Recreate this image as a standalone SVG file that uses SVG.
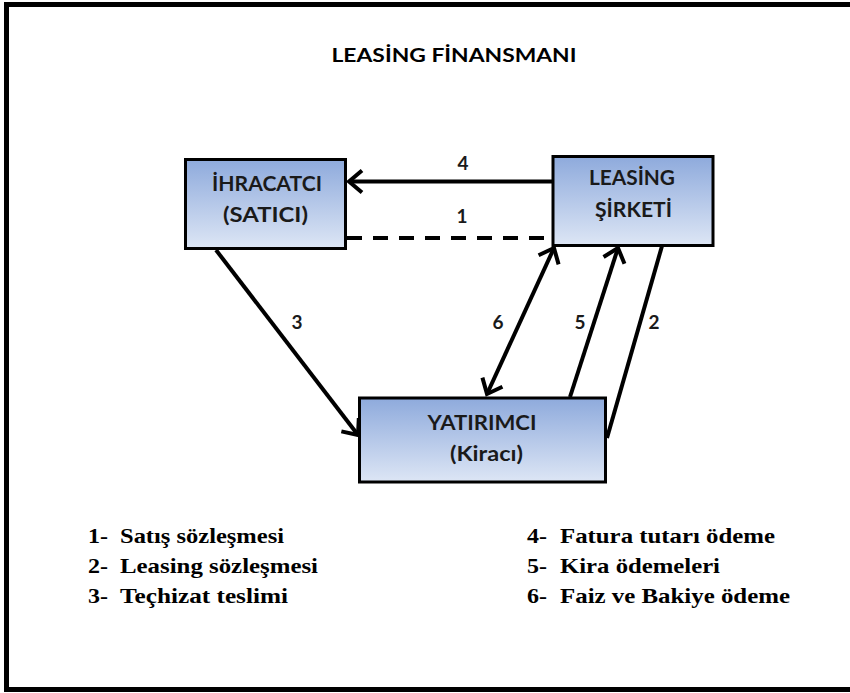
<svg xmlns="http://www.w3.org/2000/svg" width="850" height="693" viewBox="0 0 850 693">
  <defs>
    <linearGradient id="boxFill" x1="0" y1="0" x2="0" y2="1">
      <stop offset="0" stop-color="#8eaadc"/>
      <stop offset="1" stop-color="#dde6f5"/>
    </linearGradient>
    <marker id="head" viewBox="-16 -14 20 28" refX="0" refY="0" markerWidth="20" markerHeight="28" markerUnits="userSpaceOnUse" orient="auto-start-reverse">
      <path d="M -13 -11 L 0 0 L -13 11" fill="none" stroke="#000" stroke-width="4" stroke-linejoin="miter"/>
    </marker>
  </defs>
  <style>
    .frame { fill: #fff; stroke: #000; stroke-width: 5; }
    .box { fill: url(#boxFill); stroke: #000; stroke-width: 3; }
    .btxt { font-family: Lato, "Open Sans", sans-serif; font-weight: bold; font-size: 20px; fill: #1a1a1a; text-anchor: middle; }
    .num { font-family: Lato, "Open Sans", sans-serif; font-weight: bold; font-size: 19px; fill: #1a1a1a; text-anchor: middle; }
    .title { font-family: Lato, "Open Sans", sans-serif; font-weight: bold; font-size: 18.5px; fill: #000; text-anchor: middle; }
    .leg { font-family: "Liberation Serif", "Times New Roman", serif; font-weight: bold; font-size: 21px; fill: #000; }
    .con { fill: none; stroke: #000; stroke-width: 4; }
  </style>

  <!-- outer frame -->
  <rect class="frame" x="6.5" y="4.5" width="860" height="685"/>

  <text class="title" x="454" y="62" textLength="245" lengthAdjust="spacingAndGlyphs">LEASİNG FİNANSMANI</text>

  <!-- connectors -->
  <g id="connectors">
    <line class="con" x1="553" y1="181.5" x2="349" y2="181.5" marker-end="url(#head)"/>
    <line class="con" x1="347" y1="238" x2="553" y2="238" stroke-width="4.5" stroke-dasharray="15 11"/>
    <line class="con" x1="216" y1="250" x2="358" y2="435" marker-end="url(#head)"/>
    <line class="con" x1="487" y1="394" x2="554" y2="248" marker-start="url(#head)" marker-end="url(#head)"/>
    <line class="con" x1="570" y1="397" x2="618" y2="248" marker-end="url(#head)"/>
    <line class="con" x1="662" y1="246" x2="607" y2="438"/>
    <text class="num" x="463" y="170">4</text>
    <text class="num" x="462" y="223">1</text>
    <text class="num" x="297" y="329">3</text>
    <text class="num" x="498" y="329">6</text>
    <text class="num" x="580" y="329">5</text>
    <text class="num" x="654" y="329">2</text>
  </g>

  <!-- nodes -->
  <g id="ihracatci">
    <rect class="box" x="185.5" y="159.5" width="160" height="89"/>
    <text class="btxt" x="267" y="191" textLength="110" lengthAdjust="spacingAndGlyphs">İHRACATCI</text>
    <text class="btxt" x="265.5" y="222" textLength="85" lengthAdjust="spacingAndGlyphs">(SATICI)</text>
  </g>
  <g id="leasing-sirketi">
    <rect class="box" x="553" y="156.5" width="160" height="89"/>
    <text class="btxt" x="632" y="185" textLength="86" lengthAdjust="spacingAndGlyphs">LEASİNG</text>
    <text class="btxt" x="633.5" y="217" textLength="77" lengthAdjust="spacingAndGlyphs">ŞİRKETİ</text>
  </g>
  <g id="yatirimci">
    <rect class="box" x="359.5" y="398" width="246" height="84"/>
    <text class="btxt" x="482" y="430" textLength="109" lengthAdjust="spacingAndGlyphs">YATIRIMCI</text>
    <text class="btxt" x="486.5" y="461" textLength="73" lengthAdjust="spacingAndGlyphs">(Kiracı)</text>
  </g>

  <!-- legend -->
  <g id="legend" class="leg">
    <text x="88" y="543" textLength="20" lengthAdjust="spacingAndGlyphs">1-</text>
    <text x="120" y="543" textLength="164" lengthAdjust="spacingAndGlyphs">Satış sözleşmesi</text>
    <text x="88" y="573" textLength="20" lengthAdjust="spacingAndGlyphs">2-</text>
    <text x="120" y="573" textLength="198" lengthAdjust="spacingAndGlyphs">Leasing sözleşmesi</text>
    <text x="88" y="603" textLength="20" lengthAdjust="spacingAndGlyphs">3-</text>
    <text x="120" y="603" textLength="168" lengthAdjust="spacingAndGlyphs">Teçhizat teslimi</text>
    <text x="527" y="543" textLength="20" lengthAdjust="spacingAndGlyphs">4-</text>
    <text x="560" y="543" textLength="215" lengthAdjust="spacingAndGlyphs">Fatura tutarı ödeme</text>
    <text x="527" y="573" textLength="20" lengthAdjust="spacingAndGlyphs">5-</text>
    <text x="560" y="573" textLength="160" lengthAdjust="spacingAndGlyphs">Kira ödemeleri</text>
    <text x="527" y="603" textLength="20" lengthAdjust="spacingAndGlyphs">6-</text>
    <text x="560" y="603" textLength="230" lengthAdjust="spacingAndGlyphs">Faiz ve Bakiye ödeme</text>
  </g>
</svg>
